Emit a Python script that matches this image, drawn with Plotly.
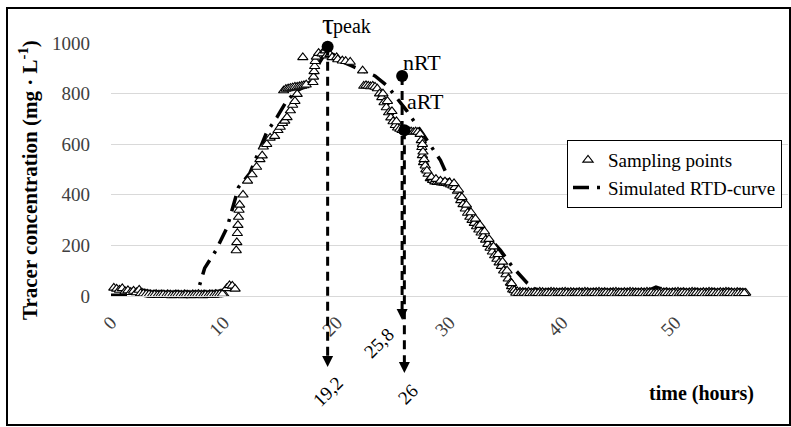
import plotly.graph_objects as go

# ---------------- sampling points (time in h, concentration in mg/L) ----------------
t_base = [0.25, 0.5, 0.75, 1.0, 1.25, 1.5, 1.75, 2.0, 2.25, 2.5,
          2.75, 3.0, 3.25, 3.5, 3.75, 4.0, 4.25, 4.5, 4.75, 5.0,
          5.25, 5.5, 5.75, 6.0, 6.25, 6.5, 6.75, 7.0, 7.25, 7.5,
          7.75, 8.0, 8.25, 8.5, 8.75, 9.0, 9.25, 9.5, 9.75, 10.0]
c_base = [32, 28, 24, 30, 18, 22, 15, 20, 14, 24,
          12, 10, 8, 6, 5, 7, 5, 6, 4, 6,
          5, 4, 6, 5, 4, 6, 5, 4, 6, 5,
          7, 5, 6, 4, 6, 5, 7, 6, 9, 8]

t_base2 = [2.625, 2.875, 3.125, 3.375, 3.625, 3.875, 4.125, 4.375, 4.625, 4.875,
           5.125, 5.375, 5.625, 5.875, 6.125, 6.375, 6.625, 6.875, 7.125, 7.375,
           7.625, 7.875, 8.125, 8.375, 8.625, 8.875, 9.125, 9.375, 9.625, 9.875]
c_base2 = [10, 9, 7, 6, 4, 5, 3, 4, 5, 3,
           4, 2, 3, 4, 3, 2, 4, 3, 2, 3,
           4, 3, 2, 4, 3, 5, 4, 6, 7, 8]

t_rise = [10.25, 10.5, 10.75, 11.0, 11.1, 11.15, 11.2, 11.25, 11.3, 11.35, 11.4, 11.7,
          12.1, 12.5, 12.9, 13.2, 13.4, 13.5, 13.8, 14.1, 14.5, 14.8, 15.0, 15.2,
          15.4, 15.6, 15.9, 16.1, 16.3, 16.5,
          15.3, 15.5, 15.7, 15.9, 16.1, 16.3, 16.5, 16.7, 16.9, 17.1, 17.3,
          17.0, 17.9, 17.95, 18.0, 18.05, 18.1, 18.2, 18.4, 18.7, 19.0, 19.1,
          19.4, 19.6, 20.0, 20.1, 20.5, 20.8, 21.2, 22.3]
c_rise = [30, 42, 40, 28, 180, 212, 248, 280, 312, 340, 360, 400,
          455, 480, 510, 540, 555, 590, 600, 625, 632, 655, 668, 683,
          692, 706, 733, 755, 770, 798,
          812, 818, 820, 822, 824, 826, 826, 828, 830, 832, 835,
          943, 845, 866, 888, 908, 928, 945, 960, 958, 970, 950,
          955, 943, 943, 935, 930, 928, 925, 891]

t_fall = [22.4, 22.6, 22.8, 23.0, 23.2, 23.4, 23.6,
          23.8, 24.0, 24.2, 24.4, 24.6, 24.8, 25.0, 25.2, 25.4, 25.6,
          25.8, 26.0, 26.2, 26.4, 26.6, 26.8, 27.0, 27.2, 27.4,
          27.5, 27.55, 27.6, 27.7, 27.9, 28.1, 28.3, 28.5, 28.7, 28.9,
          29.1, 29.3, 29.5, 29.7, 29.9, 30.1, 30.3, 30.5, 30.7, 30.9,
          31.0, 31.2, 31.4, 31.6, 31.8, 32.0, 32.2, 32.4, 32.6, 32.8,
          33.0, 33.2, 33.4, 33.6, 33.8, 34.0, 34.2, 34.4, 34.6, 34.8,
          35.0, 35.2, 35.4, 35.5, 35.6]
c_fall = [830, 832, 830, 828, 830, 826, 820,
          800, 785, 765, 745, 725, 705, 690, 675, 665, 660,
          655, 652, 650, 652, 650, 648, 650, 648, 640,
          615, 588, 556, 528, 500, 482, 465, 458, 452, 450,
          450, 448, 447, 446, 444, 440, 436, 430, 415, 395,
          378, 362, 345, 328, 312, 300, 288, 275, 262, 250,
          236, 222, 205, 190, 175, 160, 146, 132, 118, 100,
          85, 68, 52, 38, 25]

t_fall2 = [24.1, 24.5, 24.9, 25.3, 27.6, 27.65, 27.75, 27.85, 28.0, 28.4,
           28.8, 29.2, 29.6, 30.0, 30.4, 30.8, 31.1, 31.5, 31.9, 32.3,
           32.7, 33.1, 33.5, 33.9, 34.3, 34.7, 35.1, 35.5]
c_fall2 = [800, 770, 730, 690, 600, 570, 540, 515, 495, 470,
           462, 455, 452, 448, 445, 420, 390, 360, 330, 305,
           280, 255, 225, 195, 165, 135, 100, 50]

t_tail = [35.75, 36.0, 36.25, 36.5, 36.75, 37.0, 37.25, 37.5, 37.75, 38.0,
          38.25, 38.5, 38.75, 39.0, 39.25, 39.5, 39.75, 40.0, 40.25, 40.5,
          40.75, 41.0, 41.25, 41.5, 41.75, 42.0, 42.25, 42.5, 42.75, 43.0,
          43.25, 43.5, 43.75, 44.0, 44.25, 44.5, 44.75, 45.0, 45.25, 45.5,
          45.75, 46.0, 46.25, 46.5, 46.75, 47.0, 47.25, 47.5, 47.75, 48.0,
          48.25, 48.5, 48.75, 49.0, 49.25, 49.5, 49.75, 50.0, 50.25, 50.5,
          50.75, 51.0, 51.25, 51.5, 51.75, 52.0, 52.25, 52.5, 52.75, 53.0,
          53.25, 53.5, 53.75, 54.0, 54.25, 54.5, 54.75, 55.0, 55.25, 55.5,
          55.75, 56.0, 56.25]
c_tail = [22, 18, 16, 15, 14, 16, 13, 15, 14, 16,
          15, 13, 14, 16, 15, 14, 13, 15, 16, 14,
          15, 14, 13, 15, 14, 16, 15, 13, 14, 15,
          16, 14, 15, 13, 14, 15, 16, 14, 13, 15,
          14, 16, 15, 14, 13, 15, 14, 16, 15, 14,
          13, 15, 16, 14, 15, 13, 14, 15, 16, 14,
          15, 13, 14, 16, 15, 14, 13, 15, 14, 16,
          15, 14, 13, 15, 14, 16, 15, 14, 13, 15,
          14, 13, 12]

t_tail2 = [35.875, 36.125, 36.375, 36.625, 36.875, 37.125, 37.375, 37.625, 37.875, 38.125,
           38.375, 38.625, 38.875, 39.125, 39.375, 39.625, 39.875, 40.125, 40.375, 40.625,
           40.875, 41.125, 41.375, 41.625, 41.875, 42.125, 42.375, 42.625, 42.875, 43.125,
           43.375, 43.625, 43.875, 44.125, 44.375, 44.625, 44.875, 45.125, 45.375, 45.625,
           45.875, 46.125, 46.375, 46.625, 46.875, 47.125, 47.375, 47.625, 47.875, 48.125,
           48.375, 48.625, 48.875, 49.125, 49.375, 49.625, 49.875, 50.125, 50.375, 50.625,
           50.875, 51.125, 51.375, 51.625, 51.875, 52.125, 52.375, 52.625, 52.875, 53.125,
           53.375, 53.625, 53.875, 54.125, 54.375, 54.625, 54.875, 55.125, 55.375, 55.625,
           55.875, 56.125]
c_tail2 = [12, 11, 10, 12, 9, 11, 10, 12, 11, 9,
           10, 12, 11, 10, 9, 11, 12, 10, 11, 9,
           10, 11, 12, 10, 9, 11, 10, 12, 11, 10,
           9, 11, 12, 10, 11, 9, 10, 12, 11, 10,
           11, 9, 10, 12, 11, 10, 9, 11, 12, 10,
           11, 10, 9, 12, 11, 10, 11, 9, 10, 12,
           11, 10, 9, 11, 12, 10, 11, 9, 10, 11,
           12, 10, 11, 9, 10, 12, 11, 10, 9, 11,
           10, 11]

# ---------------- simulated RTD curve ----------------
t_sim = [0, 2, 4, 6, 7.0, 7.7, 8.3, 9.3, 10.3, 10.7, 11.3, 12.3, 13.4, 13.8,
         14.7, 15.6, 16.5, 17.2, 17.8, 18.5, 19.2, 19.8, 20.3, 21.3, 22.3,
         23.4, 24.5, 25.5, 26.2, 27.6, 28.3, 29.2, 30.0, 31.2, 32.5, 33.5,
         34.5, 35.6, 36.9, 38.3, 46.5, 48.3, 49.5, 52, 56]
c_sim = [3, 2, 1, 1, 4, 20, 110, 180, 272, 339, 430, 485, 603, 647,
         706, 773, 812, 828, 852, 925, 975, 950, 930, 910, 890,
         870, 830, 770, 733, 643, 595, 536, 457, 378, 290, 230,
         181, 114, 51, 2, 0, 35, 18, 10, 8]

# ---------------- characteristic times ----------------
key_time = [19.2, 25.8, 26.0]
key_conc = [985, 870, 655]
key_name = ["peak", "nRT", "aRT"]
key_label = ["19,2", "25,8", "26"]

# ---------------- layout geometry ----------------
W, H = 791, 427
ML, MR, MT, MB = 111, 3, 43, 131
PLOT_W = W - ML - MR
PLOT_H = H - MT - MB
X_RANGE = [0, 60]
Y_RANGE = [0, 1000]
SERIF = "Liberation Serif, Times New Roman, serif"
X_PER_PX = (X_RANGE[1] - X_RANGE[0]) / PLOT_W


def y_paper(v):
    return (v - Y_RANGE[0]) / (Y_RANGE[1] - Y_RANGE[0])


def px_x(px):
    return (px - ML) / PLOT_W


def px_y(px):
    return (H - MB - px) / PLOT_H


t_all = t_base + t_base2 + t_rise + t_fall + t_fall2 + t_tail + t_tail2
c_all = c_base + c_base2 + c_rise + c_fall + c_fall2 + c_tail + c_tail2

fig = go.Figure()

fig.add_trace(go.Scatter(
    x=t_sim, y=c_sim, mode="lines", name="Simulated RTD-curve",
    line=dict(color="black", width=3.5, dash="16px,8px,3px,8px"),
    legendrank=2, hoverinfo="skip",
))

fig.add_trace(go.Scatter(
    x=t_all, y=c_all, mode="markers", name="Sampling points",
    marker=dict(symbol="triangle-up", size=9, color="white",
                line=dict(color="black", width=1.1)),
    legendrank=1, hoverinfo="skip", cliponaxis=False,
))

fig.add_trace(go.Scatter(
    x=key_time, y=key_conc, mode="markers", showlegend=False,
    marker=dict(symbol="circle", size=12, color="black"),
    hoverinfo="skip", cliponaxis=False,
))

# dashed drop lines with arrow heads below the time axis
tip_drop = [71, 24, 77]          # px under the axis where each arrow ends
HEAD_LEN, HEAD_HALF = 11, 5.5    # arrow head size in px
label_shift = [(0, -24), (-24, -23), (3, -21)]
name_shift = [(24, 20), (20, 13), (21, 29)]
name_size = [20, 22, 22]

shapes = []
annotations = []
for t, c, drop, lab, (lx, ly), nm, (nx, ny), ns in zip(
        key_time, key_conc, tip_drop, key_label, label_shift,
        key_name, name_shift, name_size):
    tip = -drop / PLOT_H
    base = tip + HEAD_LEN / PLOT_H
    hw = HEAD_HALF * X_PER_PX
    shapes.append(dict(
        type="line", xref="x", yref="paper", x0=t, x1=t,
        y0=y_paper(c), y1=base,
        line=dict(color="black", width=3, dash="9px,6px"), layer="above"))
    shapes.append(dict(
        type="path", xref="x", yref="paper",
        path=f"M {t - hw},{base} L {t + hw},{base} L {t},{tip} Z",
        fillcolor="black", line=dict(width=0), layer="above"))
    annotations.append(dict(
        x=t, y=tip, xref="x", yref="paper", text=lab, showarrow=False,
        textangle=-45, xshift=lx, yshift=ly,
        xanchor="center", yanchor="middle",
        font=dict(family=SERIF, size=19, color="black")))
    annotations.append(dict(
        x=t, y=c, xref="x", yref="y", text=nm, showarrow=False,
        xshift=nx, yshift=ny, xanchor="center", yanchor="middle",
        font=dict(family=SERIF, size=ns, color="black")))

# Greek tau in front of "peak"
annotations.append(dict(
    x=key_time[0], y=key_conc[0], xref="x", yref="y", text="τ",
    showarrow=False, xshift=0, yshift=23, xanchor="center", yanchor="middle",
    font=dict(family=SERIF, size=30, color="black")))

# axis titles
annotations.append(dict(
    x=px_x(28), y=px_y(180), xref="paper", yref="paper",
    text="<b>Tracer concentration (mg · L<sup>-1</sup>)</b>",
    textangle=-90, showarrow=False, xanchor="center", yanchor="middle",
    font=dict(family=SERIF, size=21, color="black")))
annotations.append(dict(
    x=px_x(701), y=px_y(393), xref="paper", yref="paper",
    text="<b>time (hours)</b>", showarrow=False,
    xanchor="center", yanchor="middle",
    font=dict(family=SERIF, size=20, color="black")))

# outer frame
shapes.append(dict(
    type="rect", xref="paper", yref="paper",
    x0=px_x(7), x1=px_x(790), y0=px_y(425), y1=px_y(8),
    line=dict(color="black", width=2), layer="above"))

fig.update_layout(
    width=W, height=H,
    margin=dict(l=ML, r=MR, t=MT, b=MB),
    paper_bgcolor="white", plot_bgcolor="white",
    shapes=shapes, annotations=annotations,
    legend=dict(
        x=px_x(567), y=px_y(140), xanchor="left", yanchor="top",
        bgcolor="white", bordercolor="black", borderwidth=1,
        font=dict(family=SERIF, size=19, color="black"),
        itemwidth=30, traceorder="normal",
    ),
    xaxis=dict(
        range=X_RANGE, dtick=10, tickangle=-45, showgrid=False,
        zeroline=False, showline=True, linecolor="#d9d9d9", linewidth=1,
        ticks="", ticklabelstandoff=7,
        tickfont=dict(family=SERIF, size=19, color="#404040"),
    ),
    yaxis=dict(
        range=Y_RANGE, dtick=200, showgrid=True, gridcolor="#d9d9d9",
        gridwidth=1, zeroline=False, showline=False, ticks="",
        ticklabelstandoff=20,
        tickfont=dict(family=SERIF, size=19, color="#404040"),
    ),
)

fig.write_html("out.html")
